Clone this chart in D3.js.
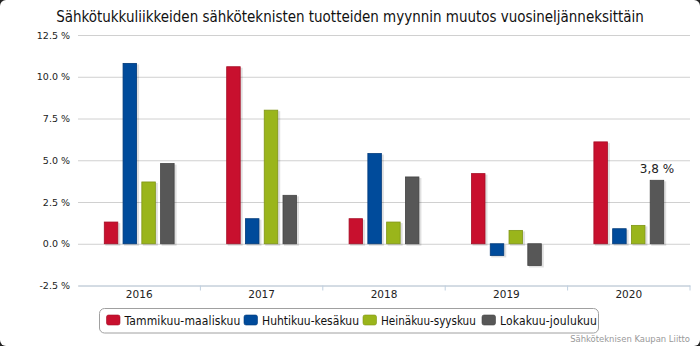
<!DOCTYPE html>
<html>
<head>
<meta charset="utf-8">
<script src="https://cdn.jsdelivr.net/npm/d3@7/dist/d3.min.js"></script>
<style>
  html, body { margin: 0; padding: 0; background: #222; }
  svg { display: block; }
</style>
</head>
<body>
<svg id="chart" width="700" height="346"></svg>
<script>
// Quarterly change in sales of electrical products by wholesalers (%)
const years = ["2016", "2017", "2018", "2019", "2020"];
const seriesNames = ["Tammikuu-maaliskuu", "Huhtikuu-kesäkuu", "Heinäkuu-syyskuu", "Lokakuu-joulukuu"];
const q1 = [1.3, 10.6, 1.5, 4.2, 6.1];
const q2 = [10.8, 1.5, 5.4, -0.7, 0.9];
const q3 = [3.7, 8.0, 1.3, 0.8, 1.1];
const q4 = [4.8, 2.9, 4.0, -1.3, 3.8];
const yTicks = [-2.5, 0, 2.5, 5, 7.5, 10, 12.5];
const seriesColors = ["#c8102e", "#004b9b", "#9ab51b", "#575757"];
const seriesStrokes = ["#a50d25", "#003a7a", "#7f9515", "#444444"];
const titleText = "Sähkötukkuliikkeiden sähköteknisten tuotteiden myynnin muutos vuosineljänneksittäin";
const creditText = "Sähköteknisen Kaupan Liitto";

const values = [q1, q2, q3, q4];
const svg = d3.select("#chart");
const W = 700, H = 346;
const font = "'DejaVu Sans', sans-serif";
const fontC = "'DejaVu Sans Condensed', 'DejaVu Sans', sans-serif";

// fit a text to a width: shrink the font if too wide, else open up letter spacing
function fitText(sel, target, size) {
  sel.attr("font-size", size);
  const w = sel.node().getComputedTextLength();
  const n = sel.text().length;
  if (w > target) {
    sel.attr("font-size", size * target / w);
  } else {
    sel.attr("letter-spacing", ((target - w) / n).toFixed(3));
  }
}

// white card with rounded corners
svg.append("rect").attr("x", 0).attr("y", 0).attr("width", W).attr("height", H)
  .attr("rx", 6).attr("fill", "#fff");

const x0 = d3.scaleBand().domain(years).range([78, 690]).paddingInner(0).paddingOuter(0);
const x1 = d3.scaleBand().domain(d3.range(4)).range([0, x0.bandwidth()])
  .paddingInner(0.28).paddingOuter(1.4);
const y = d3.scaleLinear().domain([-2.5, 12.5]).range([285.5, 35]);

// title
const title = svg.append("text").attr("x", 350).attr("y", 22).attr("text-anchor", "middle")
  .attr("font-family", fontC).attr("fill", "#111")
  .text(titleText);
fitText(title, 588, 16);

// y grid and labels
const yAxis = d3.axisLeft(y).tickValues(yTicks).tickSize(-(690 - 78))
  .tickFormat(d => d3.format(".1f")(d).replace("−", "-") + " %");
const gy = svg.append("g").attr("transform", "translate(78,0)").call(yAxis);
gy.select(".domain").remove();
gy.selectAll(".tick line").attr("stroke", "#d0d0d0").attr("stroke-width", 1);
gy.selectAll(".tick text").attr("x", -8).attr("font-family", font)
  .attr("font-size", 9.5).attr("fill", "#222");

// x axis
const xAxis = d3.axisBottom(x0).tickSize(0).tickPadding(5);
const gx = svg.append("g").attr("transform", `translate(0,${y(-2.5)})`).call(xAxis);
gx.select(".domain").attr("stroke", "#c0d0e0");
gx.selectAll(".tick text").attr("font-family", font).attr("font-size", 10.5).attr("fill", "#222");
// band boundary ticks
svg.append("g").selectAll("line").data(years.slice(1).concat(["end"]))
  .join("line")
  .attr("x1", (d, i) => i < years.length - 1 ? x0(d) : x0.range()[1])
  .attr("x2", (d, i) => i < years.length - 1 ? x0(d) : x0.range()[1])
  .attr("y1", y(-2.5)).attr("y2", y(-2.5) + 5)
  .attr("stroke", "#c0d0e0");

// bars
const barData = [];
years.forEach((yr, i) => values.forEach((s, k) => barData.push({ yr, k, v: s[i] })));

const bars = svg.append("g");
// soft shadow
bars.selectAll("rect.shadow").data(barData).join("rect").attr("class", "shadow")
  .attr("x", d => x0(d.yr) + x1(d.k) + 1)
  .attr("y", d => Math.min(y(d.v), y(0)) + 1)
  .attr("width", x1.bandwidth() + 1.5)
  .attr("height", d => Math.abs(y(d.v) - y(0)) + 1)
  .attr("fill", "#000").attr("opacity", 0.12);
bars.selectAll("rect.bar").data(barData).join("rect").attr("class", "bar")
  .attr("x", d => x0(d.yr) + x1(d.k))
  .attr("y", d => Math.min(y(d.v), y(0)))
  .attr("width", x1.bandwidth())
  .attr("height", d => Math.abs(y(d.v) - y(0)))
  .attr("fill", d => seriesColors[d.k])
  .attr("stroke", d => seriesStrokes[d.k]).attr("stroke-width", 0.8);

// value label on the last bar
const last = barData.find(d => d.yr === "2020" && d.k === 3);
svg.append("text")
  .attr("x", x0(last.yr) + x1(last.k) + x1.bandwidth() / 2)
  .attr("y", y(last.v) - 7)
  .attr("text-anchor", "middle").attr("font-family", font).attr("font-size", 12)
  .attr("fill", "#222")
  .text(d3.format(".1f")(last.v).replace(".", ",") + " %");

// legend
const lg = svg.append("g");
lg.append("rect").attr("x", 99.5).attr("y", 308.5).attr("width", 499).attr("height", 24.5)
  .attr("rx", 5).attr("fill", "#fff").attr("stroke", "#a0a0a0");
const itemX = [106.5, 244, 363, 482];
const itemW = [116, 97, 95, 97];
seriesNames.forEach((name, k) => {
  lg.append("rect").attr("x", itemX[k]).attr("y", 315).attr("width", 13.5).attr("height", 10)
    .attr("rx", 2).attr("fill", seriesColors[k]).attr("stroke", seriesStrokes[k]).attr("stroke-width", 0.6);
  const t = lg.append("text").attr("x", itemX[k] + 18).attr("y", 324.5)
    .attr("font-family", fontC).attr("fill", "#111")
    .text(name);
  fitText(t, itemW[k], 12);
});

// credit
const credit = svg.append("text").attr("x", 690).attr("y", 342).attr("text-anchor", "end")
  .attr("font-family", fontC).attr("fill", "#999")
  .text(creditText);
fitText(credit, 120, 9.5);
</script>
</body>
</html>
